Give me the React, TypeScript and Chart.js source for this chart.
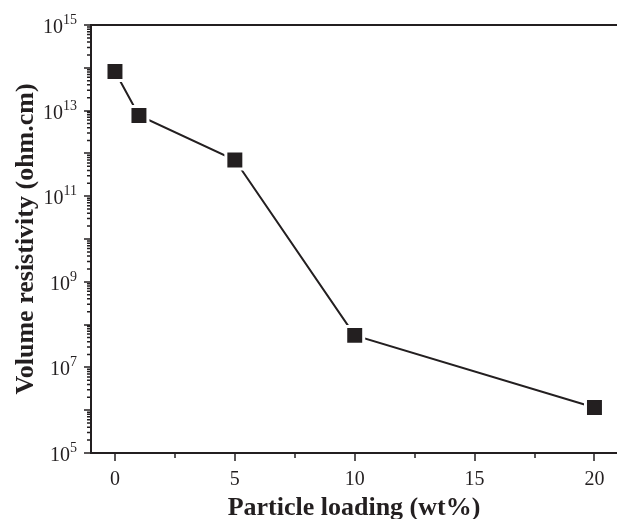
import React, { useEffect, useRef } from 'react';
import { Chart, registerables } from 'chart.js';

Chart.register(...registerables);

// ---- data ----
const loadings = [0, 1, 5, 10, 20];
const resistivity = [8.2e13, 7.7e12, 7.0e11, 5.6e7, 1.16e6];
const xMajorTicks = [0, 5, 10, 15, 20];
const xMinorTicks = [2.5, 7.5, 12.5, 17.5];
const yLabelExponents = [5, 7, 9, 11, 13, 15];
const yDecadeExponents = [5, 6, 7, 8, 9, 10, 11, 12, 13, 14, 15];
const yMinorMantissas = [2, 3, 4, 5, 6, 7, 8, 9];
const xTitle = 'Particle loading (wt%)';
const yTitle = 'Volume resistivity (ohm.cm)';

const INK = '#231f20';
const SERIF = '"Liberation Serif", "Times New Roman", Times, serif';

const paperAxes = {
  id: 'paperAxes',
  afterDraw(chart: any) {
    const { ctx, chartArea: a, scales } = chart;
    const xs = scales.x;
    const ys = scales.y;
    ctx.save();
    ctx.strokeStyle = INK;
    ctx.fillStyle = INK;

    // axis lines
    ctx.lineWidth = 2;
    ctx.beginPath();
    ctx.moveTo(a.left - 1, a.top);
    ctx.lineTo(a.right, a.top);
    ctx.moveTo(a.left, a.top);
    ctx.lineTo(a.left, a.bottom);
    ctx.moveTo(a.left - 1, a.bottom);
    ctx.lineTo(a.right, a.bottom);
    ctx.stroke();

    // x ticks
    ctx.lineWidth = 1.5;
    ctx.beginPath();
    xMajorTicks.forEach((v) => {
      const px = Math.round(xs.getPixelForValue(v));
      ctx.moveTo(px, a.bottom);
      ctx.lineTo(px, a.bottom + 8);
    });
    xMinorTicks.forEach((v) => {
      const px = Math.round(xs.getPixelForValue(v));
      ctx.moveTo(px, a.bottom);
      ctx.lineTo(px, a.bottom + 5);
    });
    // y ticks
    yDecadeExponents.forEach((e) => {
      const py = Math.round(ys.getPixelForValue(Math.pow(10, e)));
      ctx.moveTo(a.left - 7, py);
      ctx.lineTo(a.left, py);
      if (e < 15) {
        yMinorMantissas.forEach((m) => {
          const p = ys.getPixelForValue(m * Math.pow(10, e));
          ctx.moveTo(a.left - 4, p);
          ctx.lineTo(a.left, p);
        });
      }
    });
    ctx.stroke();

    // x tick labels
    ctx.font = `20px ${SERIF}`;
    ctx.textAlign = 'center';
    ctx.textBaseline = 'alphabetic';
    xMajorTicks.forEach((v) => {
      ctx.fillText(String(v), xs.getPixelForValue(v), a.bottom + 32);
    });

    // y tick labels 10^n
    const expRight = a.left - 14;
    yLabelExponents.forEach((e) => {
      const py = ys.getPixelForValue(Math.pow(10, e));
      ctx.font = `14px ${SERIF}`;
      ctx.textAlign = 'right';
      const ew = ctx.measureText(String(e)).width;
      ctx.fillText(String(e), expRight, py - 1);
      ctx.font = `20px ${SERIF}`;
      ctx.fillText('10', expRight - ew, py + 8);
    });

    // titles
    ctx.font = `bold 26px ${SERIF}`;
    ctx.textAlign = 'center';
    ctx.fillText(xTitle, (a.left + a.right) / 2, a.bottom + 62);
    ctx.save();
    ctx.translate(25, (a.top + a.bottom) / 2);
    ctx.rotate(-Math.PI / 2);
    ctx.fillText(yTitle, 0, 0);
    ctx.restore();

    ctx.restore();
  },
};

export default function App() {
  const ref = useRef<HTMLCanvasElement | null>(null);

  useEffect(() => {
    document.documentElement.style.overflow = 'hidden';
    document.body.style.margin = '0';
    document.body.style.overflow = 'hidden';
    const canvas = ref.current;
    if (!canvas) return;
    const chart = new Chart(canvas, {
      type: 'line',
      data: {
        datasets: [
          {
            data: loadings.map((x, i) => ({ x, y: resistivity[i] })),
            borderColor: INK,
            borderWidth: 2,
            backgroundColor: INK,
            pointStyle: 'rect',
            pointRadius: 12.7,
            pointBackgroundColor: INK,
            pointBorderColor: '#ffffff',
            pointBorderWidth: 3,
            tension: 0,
            clip: false as any,
          },
        ],
      },
      options: {
        animation: false,
        responsive: false,
        events: [],
        layout: { autoPadding: false, padding: { top: 17, left: 0, right: 0, bottom: 0 } },
        plugins: {
          legend: { display: false },
          tooltip: { enabled: false },
        },
        scales: {
          x: {
            type: 'linear',
            min: -1,
            max: 20.94,
            grid: { display: false },
            border: { display: false },
            ticks: { display: false },
            afterFit: (s: any) => {
              s.height = 66;
            },
          },
          y: {
            type: 'logarithmic',
            min: 1e5,
            max: 1e15,
            grid: { display: false },
            border: { display: false },
            ticks: { display: false },
            afterFit: (s: any) => {
              s.width = 83;
            },
          },
        },
      },
      plugins: [paperAxes],
    } as any);
    return () => chart.destroy();
  }, []);

  return (
    <div style={{ padding: '8px 0 0 8px', width: 609, height: 511, background: '#fff' }}>
      <canvas ref={ref} width={609} height={511} style={{ display: 'block' }} />
    </div>
  );
}
